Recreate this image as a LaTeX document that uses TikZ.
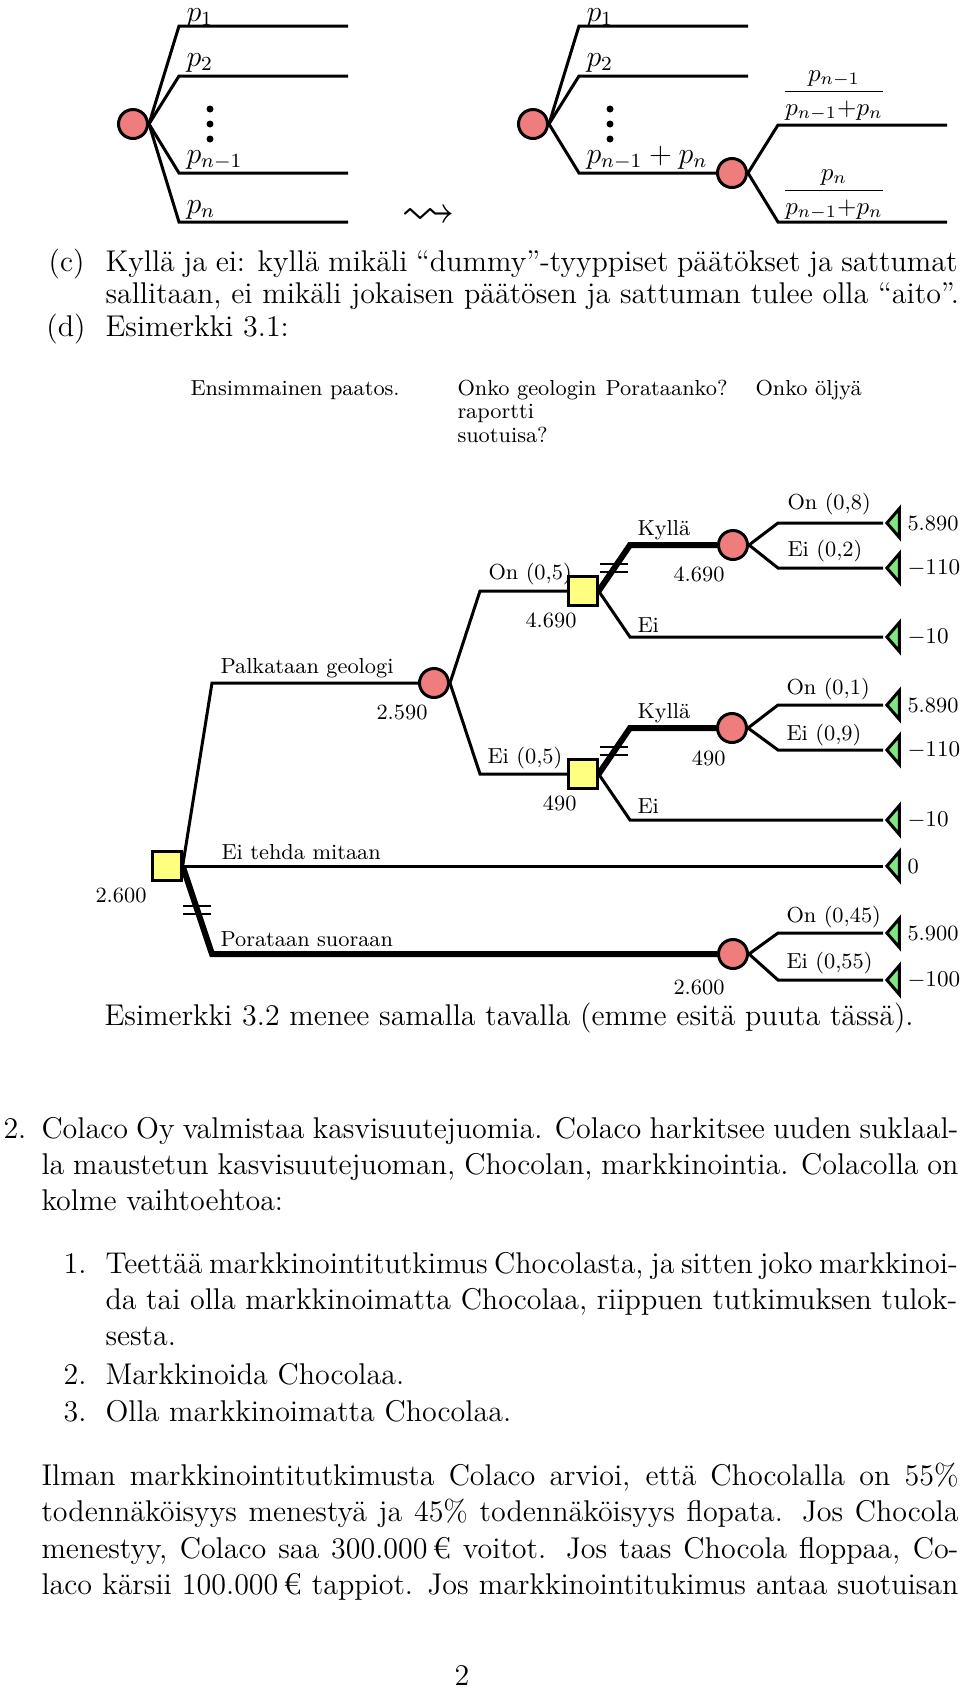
\documentclass[12pt,tikz,border=0pt]{standalone}
\usepackage{amsmath,amssymb}
\usetikzlibrary{shapes.geometric}
\definecolor{chancefill}{RGB}{240,125,125}
\definecolor{decisionfill}{RGB}{255,255,128}
\definecolor{payofffill}{RGB}{128,230,128}

\begin{document}
\begin{tikzpicture}[x=0.4pt, y=-0.4pt,
    branch/.style={line width=1.2pt},
    optimal/.style={line width=2.4pt},
    cutbar/.style={line width=1pt},
    chance/.style={circle, draw, line width=1.2pt, fill=chancefill, minimum size=11.6pt, inner sep=0pt},
    decision/.style={rectangle, draw, line width=1.2pt, fill=decisionfill, minimum size=11.3pt, inner sep=0pt},
    payoff/.style={isosceles triangle, isosceles triangle stretches, shape border rotate=180, draw,
        line width=1.2pt, fill=payofffill, minimum height=5pt, minimum width=11.6pt, inner sep=0pt},
    treelabel/.style={font=\fontsize{8.7}{10.4}\selectfont, inner sep=0pt},
    bodytext/.style={font=\normalsize, inner sep=0pt},
    fractext/.style={font=\fontsize{10}{12}\selectfont, inner sep=0pt}]
    \pgfmathsetmacro{\textw}{917*0.4}  % full text width
    \pgfmathsetmacro{\itemw}{852*0.4}  % width inside a list
    \pgfmathsetmacro{\dotr}{1.4}
    \useasboundingbox (0,0) rectangle (960,1688);

    % merging two chance branches
    \node[chance] (a0) at (133,124) {};
    \coordinate (a1) at (348,26);
    \coordinate (a2) at (348,76);
    \coordinate (a3) at (348,173);
    \coordinate (a4) at (348,222);
    \draw[branch] (a0.east) -- (179,26) -- (a1);
    \draw[branch] (a0.east) -- (179,76) -- (a2);
    \draw[branch] (a0.east) -- (179,173) -- (a3);
    \draw[branch] (a0.east) -- (179,222) -- (a4);
    \node[bodytext, anchor=base west] (pa1) at (186,21) {$p_1$};
    \node[bodytext, anchor=base west] (pa2) at (186,66) {$p_2$};
    \node[bodytext, anchor=base west] (pa3) at (186,163) {$p_{n-1}$};
    \node[bodytext, anchor=base west] (pa4) at (186,213) {$p_n$};
    \fill (210,109) circle (\dotr pt);
    \fill (210,124) circle (\dotr pt);
    \fill (210,139) circle (\dotr pt);

    \node[inner sep=0pt] (squig) at (428,217) {\scalebox{1.8}{$\leadsto$}};

    \node[chance] (b0) at (533,124) {};
    \node[chance] (b3) at (732,173) {};
    \coordinate (b1) at (748,26);
    \coordinate (b2) at (748,76);
    \coordinate (b4) at (947,125);
    \coordinate (b5) at (947,222);
    \draw[branch] (b0.east) -- (579,26) -- (b1);
    \draw[branch] (b0.east) -- (579,76) -- (b2);
    \draw[branch] (b0.east) -- (579,173) -- (b3.west);
    \draw[branch] (b3.east) -- (778,125) -- (b4);
    \draw[branch] (b3.east) -- (778,222) -- (b5);
    \node[bodytext, anchor=base west] (pb1) at (586,21) {$p_1$};
    \node[bodytext, anchor=base west] (pb2) at (586,66) {$p_2$};
    \node[bodytext, anchor=base west] (pb3) at (586,163) {$p_{n-1}+p_n$};
    \node[fractext, anchor=base] (pb4) at (834,98) {$\dfrac{p_{n-1}}{p_{n-1}{+}p_n}$};
    \node[fractext, anchor=base] (pb5) at (834,197) {$\dfrac{p_n}{p_{n-1}{+}p_n}$};
    \fill (610,109) circle (\dotr pt);
    \fill (610,124) circle (\dotr pt);
    \fill (610,139) circle (\dotr pt);

    % items (c) and (d)
    \node[bodytext, anchor=base east] (lc) at (85,271) {(c)};
    \node[bodytext, anchor=base west] (c1) at (105,271) {\makebox[\itemw pt][s]{Kyllä ja ei: kyllä mikäli “dummy”-tyyppiset päätökset ja sattumat}};
    \node[bodytext, anchor=base west] (c2) at (105,303) {sallitaan, ei mikäli jokaisen päätösen ja sattuman tulee olla “aito”.};
    \node[bodytext, anchor=base east] (ld) at (86,336) {(d)};
    \node[bodytext, anchor=base west] (d1) at (105,336) {Esimerkki 3.1:};

    % headers of the tree
    \node[treelabel, anchor=base west] (h1) at (190,395) {Ensimmainen paatos.};
    \node[treelabel, anchor=base west] (h2) at (457,395) {Onko geologin};
    \node[treelabel, anchor=base west] (h3) at (457,418) {raportti};
    \node[treelabel, anchor=base west] (h4) at (457,442) {suotuisa?};
    \node[treelabel, anchor=base west] (h5) at (605,395) {Porataanko?};
    \node[treelabel, anchor=base west] (h6) at (755,395) {Onko öljyä};

    % the oil drilling tree
    \node[decision] (n0) at (167,866) {};
    \node[chance] (n1) at (434,683) {};
    \node[decision] (n2) at (583,591) {};
    \node[decision] (n3) at (583,774) {};
    \node[chance] (n4) at (733,545) {};
    \node[chance] (n5) at (732,728) {};
    \node[chance] (n6) at (733,954) {};
    \node[payoff, anchor=apex] (t1) at (883,523) {};
    \node[payoff, anchor=apex] (t2) at (883,568) {};
    \node[payoff, anchor=apex] (t3) at (883,637) {};
    \node[payoff, anchor=apex] (t4) at (883,705) {};
    \node[payoff, anchor=apex] (t5) at (883,750) {};
    \node[payoff, anchor=apex] (t6) at (883,820) {};
    \node[payoff, anchor=apex] (t7) at (883,866) {};
    \node[payoff, anchor=apex] (t8) at (883,933) {};
    \node[payoff, anchor=apex] (t9) at (883,980) {};

    \draw[branch] (n0.east) -- (212,683) -- (n1.west);
    \draw[branch] (n0.east) -- (t7.apex);
    \draw[optimal] (n0.east) -- coordinate (cut0) (212,954) -- (n6.west);
    \draw[branch] (n1.east) -- (480,591) -- (n2.west);
    \draw[branch] (n1.east) -- (480,774) -- (n3.west);
    \draw[optimal] (n2.east) -- coordinate (cut1) (630,545) -- (n4.west);
    \draw[branch] (n2.east) -- (630,637) -- (t3.apex);
    \draw[optimal] (n3.east) -- coordinate (cut2) (630,728) -- (n5.west);
    \draw[branch] (n3.east) -- (630,820) -- (t6.apex);
    \draw[branch] (n4.east) -- (778,523) -- (t1.apex);
    \draw[branch] (n4.east) -- (778,568) -- (t2.apex);
    \draw[branch] (n5.east) -- (778,705) -- (t4.apex);
    \draw[branch] (n5.east) -- (778,750) -- (t5.apex);
    \draw[branch] (n6.east) -- (778,933) -- (t8.apex);
    \draw[branch] (n6.east) -- (778,980) -- (t9.apex);

    \draw[cutbar] ([shift={(-14,-4)}]cut0) -- ++(28,0) ([shift={(-14,4)}]cut0) -- ++(28,0);
    \draw[cutbar] ([shift={(-14,-4)}]cut1) -- ++(28,0) ([shift={(-14,4)}]cut1) -- ++(28,0);
    \draw[cutbar] ([shift={(-14,-4)}]cut2) -- ++(28,0) ([shift={(-14,4)}]cut2) -- ++(28,0);

    \node[treelabel, anchor=base west] (l1) at (220,673) {Palkataan geologi};
    \node[treelabel, anchor=base west] (l2) at (221,859) {Ei tehda mitaan};
    \node[treelabel, anchor=base west] (l3) at (220,946) {Porataan suoraan};
    \node[treelabel, anchor=base west] (l4) at (488,579) {On (0,5)};
    \node[treelabel, anchor=base west] (l5) at (487,763) {Ei (0,5)};
    \node[treelabel, anchor=base west] (l6) at (637,535) {Kyllä};
    \node[treelabel, anchor=base west] (l7) at (637,632) {Ei};
    \node[treelabel, anchor=base west] (l8) at (787,509) {On (0,8)};
    \node[treelabel, anchor=base west] (l9) at (787,556) {Ei (0,2)};
    \node[treelabel, anchor=base west] (l10) at (637,718) {Kyllä};
    \node[treelabel, anchor=base west] (l11) at (637,813) {Ei};
    \node[treelabel, anchor=base west] (l12) at (786,694) {On (0,1)};
    \node[treelabel, anchor=base west] (l13) at (786,740) {Ei (0,9)};
    \node[treelabel, anchor=base west] (l14) at (786,922) {On (0,45)};
    \node[treelabel, anchor=base west] (l15) at (786,968) {Ei (0,55)};

    \node[treelabel, anchor=west] (v1) at (907,523) {5.890};
    \node[treelabel, anchor=west] (v2) at (907,568) {$-110$};
    \node[treelabel, anchor=west] (v3) at (907,637) {$-10$};
    \node[treelabel, anchor=west] (v4) at (907,705) {5.890};
    \node[treelabel, anchor=west] (v5) at (907,750) {$-110$};
    \node[treelabel, anchor=west] (v6) at (907,820) {$-10$};
    \node[treelabel, anchor=west] (v7) at (907,866) {0};
    \node[treelabel, anchor=west] (v8) at (907,933) {5.900};
    \node[treelabel, anchor=west] (v9) at (907,980) {$-100$};

    \node[treelabel, anchor=east] (e0) at (147,895) {2.600};
    \node[treelabel, anchor=east] (e1) at (428,712) {2.590};
    \node[treelabel, anchor=east] (e2) at (577,620) {4.690};
    \node[treelabel, anchor=east] (e3) at (577,803) {490};
    \node[treelabel, anchor=east] (e4) at (725,574) {4.690};
    \node[treelabel, anchor=east] (e5) at (726,758) {490};
    \node[treelabel, anchor=east] (e6) at (725,987) {2.600};

    % text below the tree
    \node[bodytext, anchor=base west] (x1) at (104,1025) {Esimerkki 3.2 menee samalla tavalla (emme esitä puuta tässä).};
    \node[bodytext, anchor=base west] (s0) at (3,1138) {2.};
    \node[bodytext, anchor=base west] (s1) at (41,1138) {\makebox[\textw pt][s]{Colaco Oy valmistaa kasvisuutejuomia. Colaco harkitsee uuden suklaal-}};
    \node[bodytext, anchor=base west] (s2) at (41,1174) {\makebox[\textw pt][s]{la maustetun kasvisuutejuoman, Chocolan, markkinointia. Colacolla on}};
    \node[bodytext, anchor=base west] (s3) at (41,1210) {kolme vaihtoehtoa:};

    \node[bodytext, anchor=base east] (k1) at (87,1273) {1.};
    \node[bodytext, anchor=base west] (i1) at (105,1273) {\makebox[\itemw pt][s]{Teettää markkinointitutkimus Chocolasta, ja sitten joko markkinoi-}};
    \node[bodytext, anchor=base west] (i2) at (105,1309) {\makebox[\itemw pt][s]{da tai olla markkinoimatta Chocolaa, riippuen tutkimuksen tulok-}};
    \node[bodytext, anchor=base west] (i3) at (105,1345) {sesta.};
    \node[bodytext, anchor=base east] (k2) at (87,1384) {2.};
    \node[bodytext, anchor=base west] (i4) at (105,1384) {Markkinoida Chocolaa.};
    \node[bodytext, anchor=base east] (k3) at (87,1421) {3.};
    \node[bodytext, anchor=base west] (i5) at (105,1421) {Olla markkinoimatta Chocolaa.};

    \node[bodytext, anchor=base west] (q1) at (41,1485) {\makebox[\textw pt][s]{Ilman markkinointitutkimusta Colaco arvioi, että Chocolalla on 55\%}};
    \node[bodytext, anchor=base west] (q2) at (41,1521) {\makebox[\textw pt][s]{todennäköisyys menestyä ja 45\% todennäköisyys flopata. Jos Chocola}};
    \node[bodytext, anchor=base west] (q3) at (41,1558) {\makebox[\textw pt][s]{menestyy, Colaco saa 300.000\,€ voitot. Jos taas Chocola floppaa, Co-}};
    \node[bodytext, anchor=base west] (q4) at (41,1594) {\makebox[\textw pt][s]{laco kärsii 100.000\,€ tappiot. Jos markkinointitukimus antaa suotuisan}};

    \node[bodytext, anchor=base] (pg) at (462,1685) {2};
\end{tikzpicture}
\end{document}
